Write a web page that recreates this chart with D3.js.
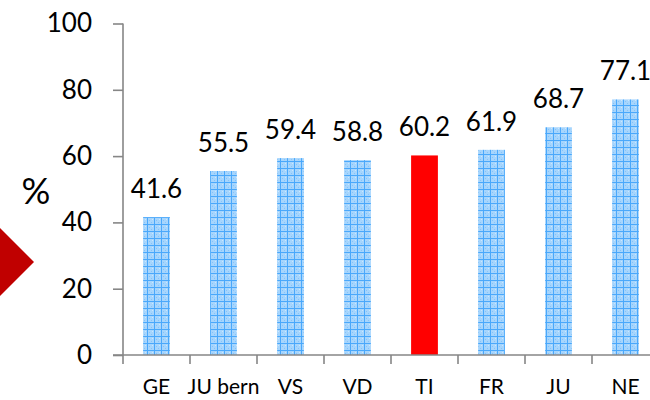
<!DOCTYPE html>
<html><head>
<meta charset="utf-8">
<script src="https://d3js.org/d3.v7.min.js"></script>
<style>
  body { margin: 0; background: #fff; }
  text { font-family: Lato, "Open Sans", sans-serif; fill: #000; }
</style>
</head>
<body>
<svg id="plot" width="650" height="400"></svg>
<script>
  // data
  const cantons = ["GE", "JU bern", "VS", "VD", "TI", "FR", "JU", "NE"];
  const shares = [41.6, 55.5, 59.4, 58.8, 60.2, 61.9, 68.7, 77.1];
  const yTicks = [0, 20, 40, 60, 80, 100];
  const highlight = "TI";

  const svg = d3.select("svg#plot");
  const x0 = 123, x1 = 659;   // plot area runs past the right edge
  const yBottom = 355, yTop = 23.5;

  let x = d3.scaleBand().domain(cantons).range([x0, x1]);
  let y = d3.scaleLinear().domain([0, 100]).range([yBottom, yTop]);
  const barW = x.bandwidth() * 0.4;

  // dotted blue fill used by the bars
  let defs = svg.append("defs");
  let pat = defs.append("pattern")
      .attr("id", "blueGrid")
      .attr("patternUnits", "userSpaceOnUse")
      .attr("width", 7).attr("height", 7);
  pat.append("rect").attr("width", 7).attr("height", 7).attr("fill", "#a6d5fd");
  pat.append("rect").attr("x", 2).attr("y", 3).attr("width", 1).attr("height", 1).attr("fill", "#86c3f8");
  pat.append("rect").attr("x", 4).attr("y", 5).attr("width", 1).attr("height", 1).attr("fill", "#86c3f8");
  pat.append("rect").attr("x", 5).attr("y", 2).attr("width", 1).attr("height", 1).attr("fill", "#cbe7fe");
  pat.append("rect").attr("x", 0).attr("y", 0).attr("width", 7).attr("height", 1).attr("fill", "#4aa8fb");
  pat.append("rect").attr("x", 0).attr("y", 0).attr("width", 1).attr("height", 7).attr("fill", "#4aa8fb");

  // red arrow on the left edge
  svg.append("path")
     .attr("d", "M0,228 L34,262 L0,296 Z")
     .attr("fill", "#c00000");

  // bars
  svg.selectAll("rect.bar")
     .data(cantons)
     .join("rect")
     .attr("class", "bar")
     .attr("x", d => x(d) + (x.bandwidth() - barW) / 2)
     .attr("y", (d, i) => y(shares[i]))
     .attr("width", barW)
     .attr("height", (d, i) => yBottom - y(shares[i]))
     .attr("fill", d => d === highlight ? "#ff0000" : "url(#blueGrid)");

  // value labels
  svg.selectAll("text.val")
     .data(cantons)
     .join("text")
     .attr("class", "val")
     .attr("x", d => x(d) + x.bandwidth() / 2)
     .attr("y", (d, i) => y(shares[i]) - 19)
     .attr("text-anchor", "middle")
     .style("font-size", "26px")
     .text((d, i) => shares[i].toFixed(1));

  // y axis
  let yAxis = d3.axisLeft(y).tickValues(yTicks).tickSize(10).tickPadding(21);
  let gy = svg.append("g").attr("transform", "translate(" + x0 + ",0)").call(yAxis);
  gy.select(".domain").remove();
  gy.append("line").attr("x1", 0).attr("x2", 0).attr("y1", yTop).attr("y2", yBottom);
  gy.selectAll("line").attr("stroke", "#868686").attr("stroke-width", 1.6);
  gy.selectAll("text").style("font-size", "26px").style("font-family", "Lato, sans-serif").attr("fill", "#000");

  // x axis: baseline plus boundary ticks
  let gx = svg.append("g");
  gx.append("line")
    .attr("x1", x0 - 10).attr("x2", 650)
    .attr("y1", yBottom).attr("y2", yBottom);
  gx.selectAll("line.bnd")
    .data(cantons)
    .join("line")
    .attr("class", "bnd")
    .attr("x1", d => x(d)).attr("x2", d => x(d))
    .attr("y1", yBottom).attr("y2", yBottom + 9);
  gx.selectAll("line").attr("stroke", "#868686").attr("stroke-width", 1.6);
  gx.selectAll("text.cat")
    .data(cantons)
    .join("text")
    .attr("class", "cat")
    .attr("x", d => x(d) + x.bandwidth() / 2)
    .attr("y", 394)
    .attr("text-anchor", "middle")
    .style("font-size", "21px")
    .text(d => d);

  // unit label
  svg.append("text")
     .attr("x", 36).attr("y", 204)
     .attr("text-anchor", "middle")
     .style("font-size", "36px")
     .text("%");
</script>
</body>
</html>
